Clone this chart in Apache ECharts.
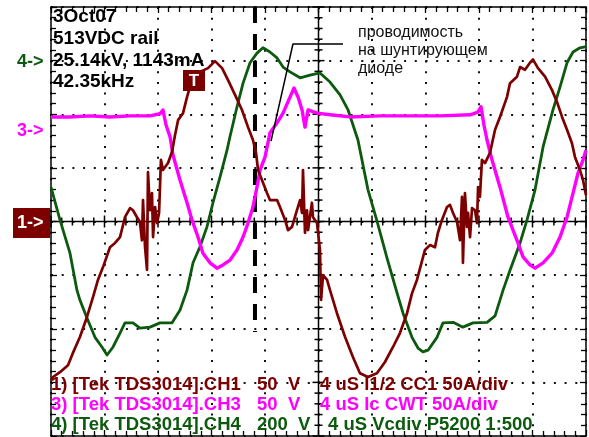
<!DOCTYPE html>
<html>
<head>
<meta charset="utf-8">
<script src="https://cdn.jsdelivr.net/npm/echarts@6/dist/echarts.min.js"></script>
<style>
  html, body { margin: 0; padding: 0; background: #fff; }
  #chart { width: 589px; height: 437px; }
</style>
</head>
<body>
<div id="chart"></div>
<script>
// time axis in microseconds (4 uS/div), vertical axis in screen divisions
const ch1Time = [0, 0.15, 0.67, 1.27, 1.64, 2.17, 2.69, 3.14, 3.51, 3.89, 4.41, 4.79, 5.16, 5.53, 5.91, 6.13, 6.43, 6.65, 6.80, 6.88,
  7.03, 7.18, 7.25, 7.40, 7.55, 7.63, 7.78, 7.93, 8.08, 8.22, 8.37, 8.75, 9.05, 9.27, 9.50, 9.87, 10.17, 10.39, 11.14, 11.74,
  12.26, 12.79, 13.23, 13.76, 14.28, 14.73, 15.10, 15.33, 15.48, 15.78, 16.15, 16.37, 16.90, 17.12, 17.50, 17.72, 18.02, 18.39, 18.62, 18.77,
  18.84, 18.99, 19.14, 19.22, 19.51, 19.59, 19.89, 20.11, 20.19, 20.34, 20.64, 20.86, 21.38, 21.98, 22.58, 23.10, 23.70, 24.37, 24.97, 25.57,
  26.09, 26.62, 26.99, 27.36, 27.96, 28.34, 28.71, 28.93, 29.23, 29.61, 29.83, 30.06, 30.36, 30.58, 30.73, 30.80, 30.95, 31.10, 31.18, 31.33,
  31.48, 31.70, 31.85, 31.93, 32.07, 32.22, 32.45, 32.82, 33.20, 33.57, 34.09, 34.32, 34.84, 35.07, 35.44, 35.81, 36.04, 36.41, 36.94, 37.46,
  37.83, 38.21, 38.58, 38.95, 39.18, 39.55, 39.78, 40];
const ch1Div = [-2.96, -2.90, -2.81, -2.68, -2.45, -2.15, -1.78, -1.41, -1.09, -0.85, -0.48, -0.40, -0.29, 0.08, 0.25, 0.21, 0.08, -0.01, -0.35, 0.40,
  -0.48, -0.90, 0.92, 0.21, 0.53, -0.29, 0.27, -0.03, 0.16, 1.15, 0.96, 1.09, 1.30, 1.61, 1.89, 2.02, 2.32, 2.51, 2.79, 2.86,
  2.99, 2.86, 2.64, 2.36, 2.08, 1.76, 1.52, 1.28, 0.96, 0.77, 0.53, 0.40, 0.40, 0.27, 0.03, -0.16, -0.10, 0.21, 0.40, 0.16,
  0.96, -0.21, 0.21, -0.16, 0.35, 0.08, -0.03, -0.53, -1.46, -1.00, -1.09, -1.28, -1.71, -2.15, -2.53, -2.83, -2.90, -2.83, -2.62, -2.34,
  -2.08, -1.71, -1.34, -1.09, -0.53, -0.44, -0.48, -0.21, 0.03, 0.27, 0.31, 0.16, -0.01, -0.35, 0.46, -0.77, 0.53, -0.10, 0.16, -0.29,
  0.25, 0.21, -0.03, 0.64, 0.46, 1.15, 1.09, 1.28, 1.71, 1.95, 2.32, 2.58, 2.70, 2.88, 2.83, 2.96, 3.02, 2.86, 2.70, 2.45,
  2.23, 1.95, 1.71, 1.46, 1.20, 0.96, 0.77, 0.49];

const ch3Time = [0, 1.42, 2.92, 4.41, 5.91, 7.40, 8.15, 8.37, 8.60, 8.90, 9.12, 9.65, 10.17, 10.54, 10.99, 11.36, 11.89, 12.41, 12.86, 13.38,
  13.91, 14.36, 14.73, 15.10, 15.40, 15.63, 16.00, 16.37, 16.90, 17.35, 17.87, 18.17, 18.47, 18.77, 18.99, 19.22, 19.89, 20.86, 22.36, 24.60,
  26.84, 29.08, 31.33, 31.92, 32.15, 32.37, 32.60, 32.97, 33.57, 34.17, 34.84, 35.29, 35.81, 36.19, 36.79, 37.46, 38.06, 38.58, 39.03, 39.40,
  39.78, 40];
const ch3Div = [1.95, 1.95, 1.97, 1.95, 1.97, 1.97, 2.01, 2.08, 1.80, 1.58, 1.24, 0.77, 0.35, 0.03, -0.29, -0.59, -0.77, -0.87, -0.81, -0.72,
  -0.53, -0.29, -0.03, 0.27, 0.64, 0.96, 1.20, 1.65, 1.84, 2.02, 2.32, 2.49, 2.32, 2.08, 1.76, 2.08, 2.02, 1.99, 1.95, 1.97,
  1.97, 1.97, 1.99, 2.04, 2.14, 1.80, 1.52, 1.15, 0.64, 0.08, -0.35, -0.66, -0.81, -0.87, -0.77, -0.59, -0.29, 0.08, 0.53, 0.90,
  1.15, 1.33];

const ch4Time = [0, 0.67, 1.42, 1.94, 2.17, 2.69, 3.29, 3.81, 4.19, 4.64, 5.16, 5.53, 6.13, 6.65, 7.40, 8.15, 9.05, 9.65, 10.17, 10.62,
  11.14, 11.66, 12.11, 12.64, 13.16, 13.38, 13.91, 14.36, 14.88, 15.40, 15.85, 16.37, 16.90, 17.35, 17.87, 18.62, 19.37, 20.11, 20.86, 21.61,
  22.21, 22.95, 23.70, 24.37, 25.12, 25.87, 26.32, 26.99, 27.44, 27.81, 28.19, 28.86, 29.31, 30.06, 30.80, 31.55, 32.60, 33.20, 33.80, 34.32,
  35.07, 35.59, 36.19, 36.79, 37.53, 38.06, 38.58, 39.03, 39.55, 40];
const ch4Div = [0.64, 0.03, -0.59, -1.28, -1.47, -1.80, -2.16, -2.34, -2.49, -2.34, -2.08, -1.89, -1.89, -1.99, -1.97, -1.89, -1.89, -1.65, -1.28, -0.77,
  -0.47, -0.10, 0.35, 0.83, 1.33, 1.58, 2.14, 2.58, 2.96, 3.14, 3.24, 3.16, 3.05, 2.88, 2.79, 2.68, 2.73, 2.77, 2.60, 2.36,
  2.08, 1.52, 0.59, 0.01, -0.68, -1.33, -1.71, -2.16, -2.36, -2.43, -2.40, -2.16, -1.89, -1.88, -1.97, -1.89, -1.88, -1.76, -1.28, -0.91,
  -0.40, 0.03, 0.59, 1.39, 2.08, 2.51, 2.96, 3.16, 3.24, 3.26];

// cursor and annotation leader (time, div)
const cursorTime = 15.25;
const cursorSpan = [4, -2.06];
const leaderTime = [16.45, 18.09, 21.83];
const leaderDiv = [1.50, 3.31, 3.31];

const headerLines = ["3Oct07", "513VDC rail", "25.14kV, 1143mA", "42.35kHz"];
const noteLines = ["проводимость", "на шунтирующем", "диоде"];
const chLabels = ["1) [Tek TDS3014].CH1", "3) [Tek TDS3014].CH3", "4) [Tek TDS3014].CH4"];
const chScales = ["50", "50", "200"];
const chTimebase = ["4 uS I1/2 CC1 50A/div", "4 uS Ic CWT 50A/div", "4 uS Vcdiv P5200 1:500"];

const RED = "#7c0000";
const MAGENTA = "#ff00ff";
const GREEN = "#0c5a0e";
const FONT = '"Liberation Sans", Arial, sans-serif';

const zip = (xs, ys) => xs.map((x, i) => [x, ys[i]]);

// graticule ticks on the centre cross: [kind, position, half length]
const ticks = [];
for (let i = 0; i <= 50; i++) ticks.push([0, i * 0.8, i % 5 === 0 ? 6 : 4]);
for (let j = -20; j <= 20; j++) ticks.push([1, j * 0.2, j % 5 === 0 ? 6 : 4]);

function renderTick(params, api) {
  const t = ticks[params.dataIndex];
  const h = t[2];
  if (t[0] === 0) {
    const p = api.coord([t[1], 0]);
    return { type: "line", shape: { x1: p[0], y1: p[1] - h, x2: p[0], y2: p[1] + h }, style: { stroke: "#000", lineWidth: 1.5 } };
  }
  const p = api.coord([20, t[1]]);
  return { type: "line", shape: { x1: p[0] - h, y1: p[1], x2: p[0] + h, y2: p[1] }, style: { stroke: "#000", lineWidth: 1.5 } };
}

const frameLine = { onZero: false, lineStyle: { color: "#000", width: 1.5 } };
const frameTick = { inside: true, length: 6, lineStyle: { color: "#000", width: 1.3 } };
const frameMinor = { show: true, splitNumber: 5, length: 5, lineStyle: { color: "#000", width: 1.3 } };
const dots = { show: true, lineStyle: { color: "#111", width: 2, type: [2, 8.7] } };

function xAxisFor(position, split) {
  return {
    type: "value", min: 0, max: 40, interval: 4, position,
    axisLine: frameLine, axisTick: frameTick, minorTick: frameMinor,
    axisLabel: { show: false }, splitLine: split ? dots : { show: false },
  };
}
function yAxisFor(position, split) {
  return {
    type: "value", min: -4, max: 4, interval: 1, position,
    axisLine: frameLine, axisTick: frameTick, minorTick: frameMinor,
    axisLabel: { show: false }, splitLine: split ? dots : { show: false },
  };
}

function text(str, x, y, color, font, align) {
  return {
    type: "text", z: 100,
    style: { text: str, x, y, fill: color, font, align: align || "left", verticalAlign: "middle",
      textAlign: align || "left", textVerticalAlign: "middle" },
  };
}

const graphics = [];
headerLines.forEach((s, i) => graphics.push(text(s, 53, 17 + i * 21.7, "#000", `bold 19px ${FONT}`)));
noteLines.forEach((s, i) => graphics.push(text(s, 358, 33 + i * 18, "#111", `16px ${FONT}`)));
const rowColors = [RED, MAGENTA, GREEN];
chLabels.forEach((s, i) => {
  const y = 385 + i * 20;
  const f = `bold 18.5px ${FONT}`;
  graphics.push(text(s, 51, y, rowColors[i], f));
  graphics.push(text(chScales[i], 257, y, rowColors[i], f));
  graphics.push(text("V", i === 2 ? 298 : 288, y, rowColors[i], f));
  graphics.push(text(chTimebase[i], i === 2 ? 328 : 320, y, rowColors[i], f));
});
graphics.push(text("4->", 17, 62, GREEN, `bold 18px ${FONT}`));
graphics.push(text("3->", 17, 131, MAGENTA, `bold 18px ${FONT}`));
graphics.push({ type: "rect", z: 99, shape: { x: 13, y: 208, width: 37, height: 30 }, style: { fill: RED } });
graphics.push(text("1->", 17, 223, "#fff", `bold 18px ${FONT}`));
graphics.push({ type: "rect", z: 99, shape: { x: 183, y: 70, width: 22, height: 21 }, style: { fill: RED } });
graphics.push(text("T", 194, 81, "#fff", `bold 17px ${FONT}`, "center"));

const trace = (name, data, color, width) => ({
  name, type: "line", data, showSymbol: false, symbol: "none", z: 5,
  lineStyle: { color, width, join: "round" },
});

const chart = echarts.init(document.getElementById("chart"), null, { renderer: "canvas" });
chart.setOption({
  animation: false,
  backgroundColor: "#fff",
  grid: { left: 51, top: 7, width: 535, height: 429 },
  xAxis: [xAxisFor("bottom", true), xAxisFor("top", false)],
  yAxis: [yAxisFor("left", true), yAxisFor("right", false)],
  graphic: graphics,
  series: [
    { type: "custom", renderItem: renderTick, data: ticks, z: 3, silent: true },
    { type: "line", data: [[0, 0], [40, 0]], symbol: "none", z: 3, lineStyle: { color: "#000", width: 1.5 } },
    { type: "line", data: [[20, -4], [20, 4]], symbol: "none", z: 3, lineStyle: { color: "#000", width: 1.5 } },
    {
      type: "line", data: cursorSpan.map((d) => [cursorTime, d]), symbol: "none", z: 4,
      lineStyle: { color: "#000", width: 4, type: [16, 11], cap: "butt" },
    },
    { type: "line", data: zip(leaderTime, leaderDiv), symbol: "none", z: 6, lineStyle: { color: "#000", width: 1.5 } },
    trace("CH4", zip(ch4Time, ch4Div), GREEN, 2.8),
    trace("CH3", zip(ch3Time, ch3Div), MAGENTA, 3.4),
    trace("CH1", zip(ch1Time, ch1Div), RED, 2.7),
  ],
});
</script>
</body>
</html>
